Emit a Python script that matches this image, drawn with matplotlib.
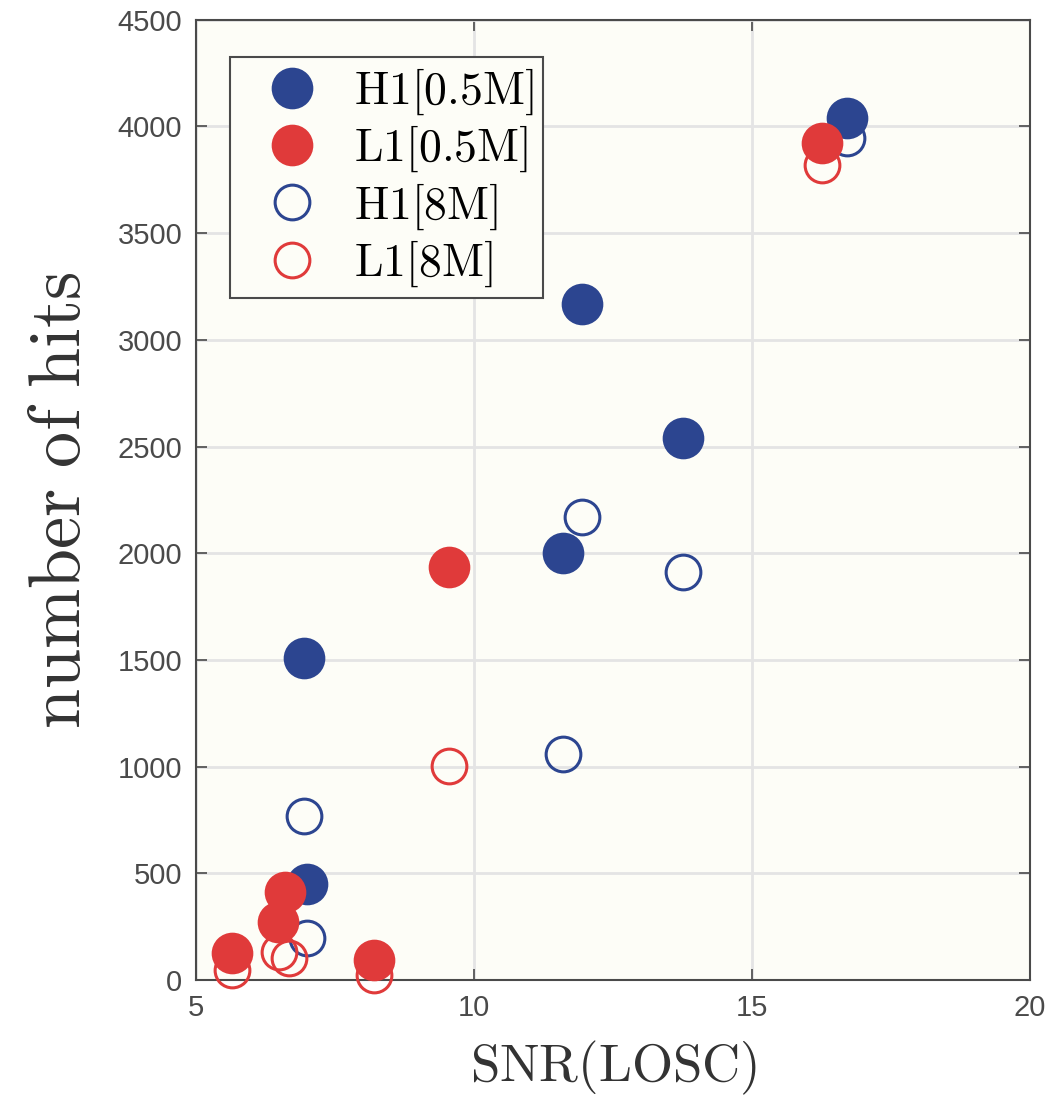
import matplotlib.pyplot as plt
from matplotlib.lines import Line2D

plt.rcParams['mathtext.fontset'] = 'cm'
plt.rcParams['font.family'] = ['Liberation Sans', 'DejaVu Sans']

# SNR (LOSC) and number of hits per detector / template bank size
h1_small_snr = [16.7, 11.95, 13.75, 11.6, 6.95, 7.0]
h1_small_hits = [4040, 3170, 2540, 2000, 1510, 450]
l1_small_snr = [16.25, 9.55, 6.6, 6.48, 5.65, 8.2]
l1_small_hits = [3925, 1935, 415, 272, 125, 95]
h1_large_snr = [16.7, 11.95, 13.75, 11.6, 6.95, 7.0]
h1_large_hits = [3945, 2170, 1912, 1060, 770, 195]
l1_large_snr = [16.25, 9.55, 6.5, 6.68, 5.65, 8.2]
l1_large_hits = [3820, 1002, 130, 102, 45, 25]

labels = ['H1[0.5M]', 'L1[0.5M]', 'H1[8M]', 'L1[8M]']
xticks = [5, 10, 15, 20]
yticks = list(range(0, 4501, 500))

blue = '#2c4590'
red = '#e03a3a'
grey = '#4a4a4a'

fig = plt.figure(figsize=(10.5, 11), dpi=100)
ax = fig.add_axes([0.1867, 0.109, 0.7943, 0.873])
ax.set_facecolor('#fdfdf7')

ms_fill = 30
ms_open = 25
ax.plot(h1_large_snr, h1_large_hits, 'o', ms=ms_open, mfc='none', mec=blue,
        mew=2.2, clip_on=False, zorder=3)
ax.plot(l1_large_snr, l1_large_hits, 'o', ms=ms_open, mfc='none', mec=red,
        mew=2.2, clip_on=False, zorder=3)
ax.plot(h1_small_snr, h1_small_hits, 'o', ms=ms_fill, mfc=blue, mec=blue,
        mew=0, clip_on=False, zorder=4)
ax.plot(l1_small_snr, l1_small_hits, 'o', ms=ms_fill, mfc=red, mec=red,
        mew=0, clip_on=False, zorder=5)

ax.set_xlim(5, 20)
ax.set_ylim(0, 4500)
ax.set_xticks(xticks)
ax.set_yticks(yticks)
ax.grid(True, color='#e4e4e4', lw=2)
ax.set_axisbelow(True)
ax.tick_params(direction='in', length=8, width=1.2, colors=grey,
               labelsize=21, top=True, right=True, pad=10)
for s in ax.spines.values():
    s.set_color(grey)
    s.set_linewidth(1.5)

ax.set_xlabel(r'$\mathrm{SNR(LOSC)}$', fontsize=38, color='#333333', labelpad=12)
ax.set_ylabel(r'$\mathrm{number\ of\ hits}$', fontsize=52, color='#333333', labelpad=16)

handles = [
    Line2D([], [], ls='none', marker='o', ms=30, mfc=blue, mec=blue, mew=0),
    Line2D([], [], ls='none', marker='o', ms=30, mfc=red, mec=red, mew=0),
    Line2D([], [], ls='none', marker='o', ms=25, mfc='none', mec=blue, mew=2.2),
    Line2D([], [], ls='none', marker='o', ms=25, mfc='none', mec=red, mew=2.2),
]
leg = ax.legend(handles, [r'$\mathrm{' + t + '}$' for t in labels],
                loc='upper left', bbox_to_anchor=(0.041, 0.961),
                borderaxespad=0, fontsize=33, frameon=True, fancybox=False,
                handletextpad=0.2, labelspacing=0.15, borderpad=0.2,
                handlelength=2.3)
leg.get_frame().set_edgecolor(grey)
leg.get_frame().set_linewidth(1.5)
leg.get_frame().set_facecolor('#fdfdf7')
leg.get_frame().set_alpha(1)
leg.set_zorder(10)

fig.savefig('out.png', dpi=100, facecolor='white')
